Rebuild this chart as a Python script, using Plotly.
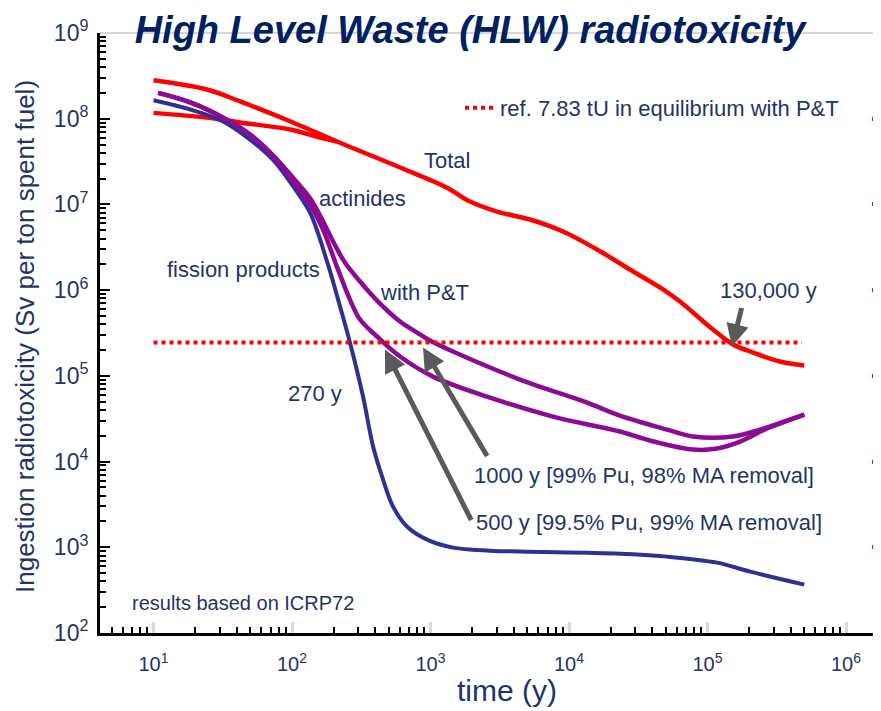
import math
import plotly.graph_objects as go

# ---------------- data ----------------
years_total = [10, 24.3, 42.2, 101.6, 211, 603, 1315, 1928, 3020, 5224, 9057, 15920,
               27540, 47750, 63240, 109600, 152800, 213300, 333400, 500000]
total = [2.81e8, 2.19e8, 1.59e8, 9.04e7, 5.42e7, 2.70e7, 1.57e7, 1.08e7, 8.26e6, 6.67e6,
         4.83e6, 2.98e6, 1.74e6, 1.02e6, 7.36e5, 3.47e5, 2.32e5, 1.87e5, 1.47e5, 1.32e5]

years_total_b = [10, 24.3, 42.2, 96.9, 159, 211]
total_b = [1.17e8, 1.03e8, 9.04e7, 7.48e7, 6.03e7, 5.42e7]

years_fp = [10, 18.4, 31.8, 49.8, 73, 102, 135, 179, 215, 262, 326, 385, 454, 536, 676,
            944, 1452, 2692, 4426, 23300, 51000, 117000, 203000, 500000]
fission_products = [1.64e8, 1.28e8, 9.3e7, 5.7e7, 3.3e7, 1.62e7, 8.0e6, 2.16e6, 7.8e5,
                    2.45e5, 5.7e4, 1.5e4, 6.2e3, 2.99e3, 1.75e3, 1.23e3, 991, 914, 891,
                    843, 778, 662, 520, 367]

years_pt500 = [10.8, 18.4, 31.8, 49.8, 75.4, 105, 128, 165, 211, 262, 310, 411, 603, 1042,
               2559, 7674, 23330, 38460, 78520, 117200, 171800, 269000, 500000]
actinides_pt500 = [2.0e8, 1.55e8, 1.03e8, 6.54e7, 3.52e7, 1.71e7, 1.14e7, 5.37e6, 1.88e6,
                   7.76e5, 4.54e5, 2.88e5, 1.68e5, 9.8e4, 5.73e4, 3.35e4, 2.24e4, 1.76e4,
                   1.38e4, 1.42e4, 1.71e4, 2.43e4, 3.53e4]

years_pt1000 = [10.8, 18.4, 31.8, 49.8, 75.4, 109, 137, 165, 198, 241, 310, 418, 603, 800,
                991, 1452, 4426, 13490, 23330, 51050, 78520, 152800, 239300, 500000]
actinides_pt1000 = [2.0e8, 1.55e8, 1.03e8, 6.54e7, 3.52e7, 1.80e7, 1.14e7, 6.67e6, 3.69e6,
                    2.10e6, 1.26e6, 7.36e5, 4.30e5, 3.20e5, 2.58e5, 1.92e5, 9.06e4, 4.88e4,
                    3.44e4, 2.36e4, 1.96e4, 1.96e4, 2.36e4, 3.53e4]

ref_years = [10, 480000]
ref_level = [2.45e5, 2.45e5]

y_ticks = [1e2, 1e3, 1e4, 1e5, 1e6, 1e7, 1e8, 1e9]
y_ticktext = ["10<sup>%d</sup>" % k for k in range(2, 10)]
x_ticks = [1e1, 1e2, 1e3, 1e4, 1e5, 1e6]
x_ticktext = ["10<sup>%d</sup>" % k for k in range(1, 7)]

# arrow tips (data) and tail offsets (pixels)
arrows = [
    (469, 2.03e5, 87, 172),      # 500 y
    (883, 2.14e5, 65, 110),      # 1000 y
    (150300, 2.2e5, 10, -40),    # 130,000 y
]

# ---------------- styling ----------------
NAVY = "#1f3468"
FONT = "Liberation Sans, Arial, sans-serif"
RED = "#ff0000"
BLUE = "#2e3192"
PURPLE = "#8c0a96"

# page has an 8px body margin; figure is sized/margined to compensate
OFF = 8
W, H = 881 - OFF, 711 - OFF
PL, PT, PR, PB = 100, 33, 876, 633   # plot area in page pixels
PW, PH = PR - PL, PB - PT
X_RANGE = [0.6137, 1 + (PR - 153.5) / 138.5]

fig = go.Figure()

def line(x, y, color, width=4.5):
    fig.add_trace(go.Scatter(x=x, y=y, mode="lines", showlegend=False, hoverinfo="skip",
                             line=dict(color=color, width=width, shape="spline", smoothing=1.0)))

line(years_total_b, total_b, RED)
line(years_total, total, RED)
line(years_fp, fission_products, BLUE, 4)
line(years_pt500, actinides_pt500, PURPLE)
line(years_pt1000, actinides_pt1000, PURPLE)

fig.add_trace(go.Scatter(x=ref_years, y=ref_level, mode="lines",
                         name="ref. 7.83 tU in equilibrium with P&T",
                         line=dict(color=RED, width=4, dash="4px,4px"),
                         hoverinfo="skip", showlegend=True))

# trace on the right-hand axis (carries the red decade ticks)
fig.add_trace(go.Scatter(x=[10, 500000], y=[1e2, 1e9], yaxis="y2", mode="markers",
                         marker=dict(size=1, color="rgba(255,255,255,0)"),
                         showlegend=False, hoverinfo="skip"))

minor_x = [m * 10 ** k for k in range(0, 6) for m in range(2, 10)]
minor_y = [m * 10 ** k for k in range(2, 9) for m in range(2, 10)]

fig.update_layout(
    width=W, height=H,
    margin=dict(l=PL - OFF, r=W - (PR - OFF), t=PT - OFF, b=H - (PB - OFF)),
    paper_bgcolor="white", plot_bgcolor="white",
    font=dict(family=FONT, color=NAVY, size=22),
    title=dict(text="High Level Waste (HLW) radiotoxicity",
               font=dict(family=FONT, size=38, color="#002060", weight="bold", style="italic"),
               x=(470 - OFF) / W, xanchor="center", y=1 - (30 - OFF) / H, yanchor="middle"),
    xaxis=dict(type="log", range=X_RANGE, showgrid=False, zeroline=False,
               showline=True, linecolor="black", linewidth=3,
               tickmode="array", tickvals=x_ticks, ticktext=x_ticktext,
               ticks="inside", ticklen=11, tickwidth=3, tickcolor="#d9d9d9",
               tickfont=dict(size=20, color=NAVY), ticklabelstandoff=11,
               minor=dict(tickmode="array", tickvals=minor_x, ticks="inside",
                          ticklen=6, tickwidth=2, tickcolor="black")),
    yaxis=dict(type="log", range=[2, 9], showgrid=False, zeroline=False,
               showline=True, linecolor="black", linewidth=3,
               tickmode="array", tickvals=y_ticks, ticktext=y_ticktext,
               ticks="inside", ticklen=10, tickwidth=2, tickcolor="black",
               tickfont=dict(size=23, color=NAVY), ticklabelstandoff=4,
               minor=dict(tickmode="array", tickvals=minor_y, ticks="inside",
                          ticklen=6, tickwidth=2, tickcolor="black")),
    yaxis2=dict(type="log", range=[2, 9], overlaying="y", side="right", anchor="x",
                showgrid=False, zeroline=False, showline=False, showticklabels=False,
                tickmode="array", tickvals=y_ticks, ticks="inside",
                ticklen=4, tickwidth=4, tickcolor=RED),
    legend=dict(x=(460 - PL) / PW, y=(PB - 108) / PH, xanchor="left", yanchor="middle",
                bgcolor="rgba(0,0,0,0)", font=dict(size=22, color=NAVY)),
    showlegend=True,
)

# top light-grey frame line
fig.add_shape(type="line", xref="paper", yref="paper", x0=0, x1=1, y0=1, y1=1,
              line=dict(color="#c8c8c8", width=1.5), layer="below")

def label(text, px, py, size=22, anchor="left"):
    fig.add_annotation(text=text, xref="paper", yref="paper",
                       x=(px - PL) / PW, y=(PB - py) / PH,
                       xanchor=anchor, yanchor="middle", showarrow=False,
                       font=dict(size=size, color=NAVY, family=FONT))

label("Total", 422, 160)
label("actinides", 317, 199)
label("fission products", 165, 269)
label("with P&T", 378, 292)
label("270 y", 286, 393)
label("130,000 y", 718, 290)
label("1000 y [99% Pu, 98% MA removal]", 472, 475)
label("500 y [99.5% Pu, 99% MA removal]", 474, 522)
label("results based on ICRP72", 130, 603, size=20)
label("time (y)", 507, 690, size=30, anchor="center")

fig.add_annotation(text="Ingestion radiotoxicity (Sv per ton spent fuel)", textangle=-90,
                   xref="paper", yref="paper", x=(25 - PL) / PW, y=(PB - 337) / PH,
                   xanchor="center", yanchor="middle", showarrow=False,
                   font=dict(size=26, color=NAVY, family=FONT))

for tx, ty, ax, ay in arrows:
    fig.add_annotation(x=math.log10(tx), y=math.log10(ty), xref="x", yref="y",
                       text="", showarrow=True, arrowhead=2, arrowsize=0.9,
                       arrowwidth=5, arrowcolor="#5a5a5a", ax=ax, ay=ay,
                       axref="pixel", ayref="pixel", standoff=0)

fig.write_html("out.html")
